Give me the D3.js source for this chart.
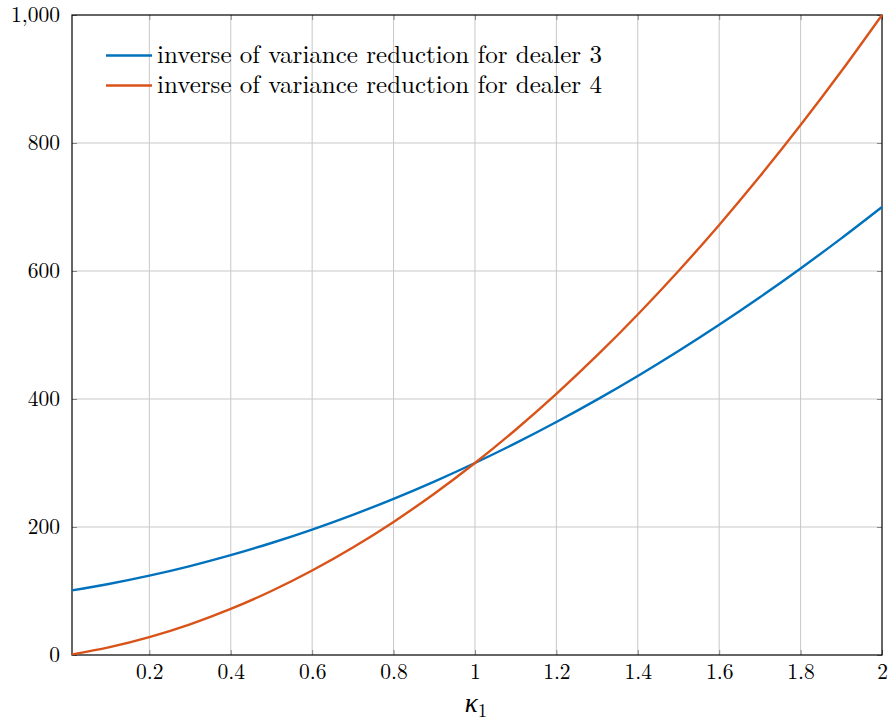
<!DOCTYPE html>
<html><head><meta charset="utf-8">
<script src="https://cdn.jsdelivr.net/npm/d3@7"></script>
<style>body{margin:0;background:#fff;} svg{display:block;} text{font-family:"Latin Modern Roman","Liberation Serif",serif;fill:#000;}</style>
</head><body>
<svg id="c" width="889" height="722"></svg>
<script>
const kappa = [0.01,0.1,0.2,0.3,0.4,0.5,0.6,0.7,0.8,0.9,1.0,1.1,1.2,1.3,1.4,1.5,1.6,1.7,1.8,1.9,2.0];
const dealer3 = [101,111,124,139,156,175,196,219,244,271,300,331,364,399,436,475,516,559,604,651,700];
const dealer4 = [1,12,28,48,72,100,132,168,208,252,300,352,408,468,532,600,672,748,828,912,1000];
const xTicks = [0.2,0.4,0.6,0.8,1,1.2,1.4,1.6,1.8,2];
const yTicks = [0,200,400,600,800,1000];
const seriesNames = ["inverse of variance reduction for dealer 3","inverse of variance reduction for dealer 4"];
const colors = ["#0072bd","#d95319"];

const svg = d3.select("#c");
const L=72,R=882,T=15,B=655;
const x = d3.scaleLinear().domain([0.01,2]).range([L,R]);
const y = d3.scaleLinear().domain([0,1000]).range([B,T]);

// grid
svg.append("g").selectAll("line").data(xTicks.filter(d=>d<2)).join("line")
  .attr("x1",d=>x(d)).attr("x2",d=>x(d)).attr("y1",T).attr("y2",B)
  .attr("stroke","#c8c8c8").attr("stroke-width",1);
svg.append("g").selectAll("line").data(yTicks.filter(d=>d>0&&d<1000)).join("line")
  .attr("x1",L).attr("x2",R).attr("y1",d=>y(d)).attr("y2",d=>y(d))
  .attr("stroke","#c8c8c8").attr("stroke-width",1);

// axes (inner ticks)
const xa = svg.append("g").attr("transform",`translate(0,${B})`)
  .call(d3.axisBottom(x).tickValues(xTicks).tickSize(-5).tickPadding(9).tickFormat(d3.format("")));
const xaTop = svg.append("g").attr("transform",`translate(0,${T})`)
  .call(d3.axisTop(x).tickValues(xTicks).tickSize(-5).tickFormat(""));
const ya = svg.append("g").attr("transform",`translate(${L},0)`)
  .call(d3.axisLeft(y).tickValues(yTicks).tickSize(-5).tickPadding(12).tickFormat(d3.format(",")));
const yaR = svg.append("g").attr("transform",`translate(${R},0)`)
  .call(d3.axisRight(y).tickValues(yTicks).tickSize(-5).tickFormat(""));
[xa,xaTop,ya,yaR].forEach(g=>{
  g.select(".domain").remove();
  g.selectAll(".tick line").attr("stroke","#888");
  g.selectAll("text").attr("font-size",21.5).attr("font-family",null);
});
svg.append("rect").attr("x",L).attr("y",T).attr("width",R-L).attr("height",B-T)
  .attr("fill","none").attr("stroke","#000").attr("stroke-width",1.2);

// lines
const line = d3.line().x((d,i)=>x(kappa[i])).y(d=>y(d)).curve(d3.curveMonotoneX);
[dealer3,dealer4].forEach((s,i)=>{
  svg.append("path").datum(s).attr("d",line).attr("fill","none")
    .attr("stroke",colors[i]).attr("stroke-width",2.4);
});

// legend
seriesNames.forEach((n,i)=>{
  const yy = 55.5 + i*30;
  svg.append("line").attr("x1",106).attr("x2",152).attr("y1",yy).attr("y2",yy)
    .attr("stroke",colors[i]).attr("stroke-width",2.4);
  svg.append("text").attr("x",157).attr("y",yy+7.5).attr("font-size",25).text(n);
});

// axis label
svg.append("text").attr("x",476).attr("y",712).attr("text-anchor","middle")
  .attr("font-size",27).attr("font-style","italic").text("κ")
  .append("tspan").attr("font-size",19).attr("font-style","normal").attr("dy",5).text("1");
</script>
</body></html>
